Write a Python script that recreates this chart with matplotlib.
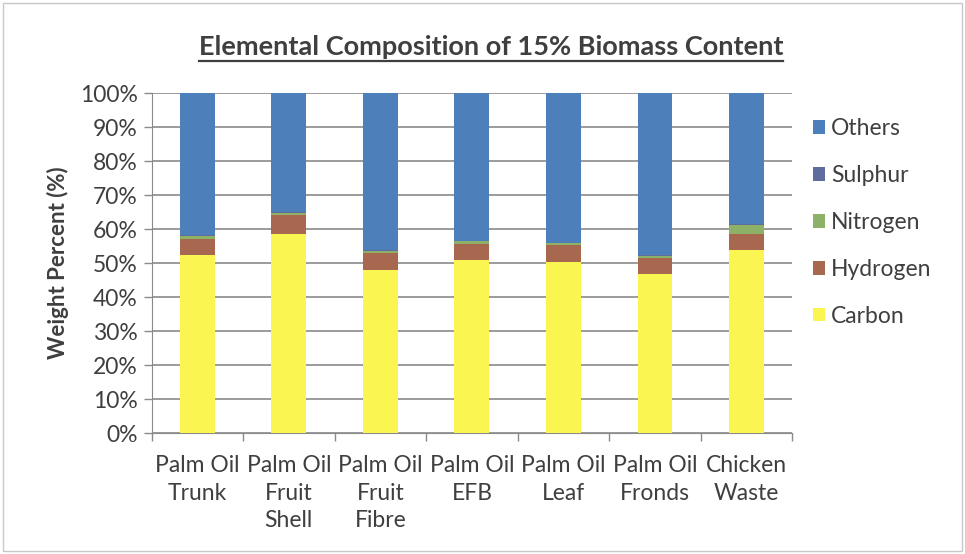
import matplotlib.pyplot as plt
import numpy as np
from matplotlib.ticker import PercentFormatter

plt.rcParams['font.family'] = ['Lato', 'DejaVu Sans']

categories = ["Palm Oil\nTrunk", "Palm Oil\nFruit\nShell", "Palm Oil\nFruit\nFibre",
              "Palm Oil\nEFB", "Palm Oil\nLeaf", "Palm Oil\nFronds", "Chicken\nWaste"]

# weight percent of each element, stacked bottom to top
carbon = [52.4, 58.7, 47.9, 50.9, 50.4, 46.7, 54.0]
hydrogen = [4.6, 5.4, 5.2, 4.7, 4.9, 4.7, 4.7]
nitrogen = [1.0, 0.6, 0.6, 0.8, 0.5, 0.7, 2.5]
sulphur = [0.2, 0.2, 0.2, 0.2, 0.2, 0.2, 0.3]
others = [100 - c - h - n - s for c, h, n, s in zip(carbon, hydrogen, nitrogen, sulphur)]

series = [("Carbon", carbon, "#FAF550"),
          ("Hydrogen", hydrogen, "#A8684F"),
          ("Nitrogen", nitrogen, "#8DB267"),
          ("Sulphur", sulphur, "#5F6D9E"),
          ("Others", others, "#4D80BA")]

text_col = "#3F3F3F"
fs = 16.5

fig = plt.figure(figsize=(9.65, 5.54), dpi=100)
fig.patch.set_facecolor("white")
ax = fig.add_axes([0.157, 0.218, 0.664, 0.614])

x = np.arange(len(categories))
bottom = np.zeros(len(categories))
handles = []
for name, vals, col in series:
    b = ax.bar(x, vals, bottom=bottom, width=0.38, color=col, label=name, zorder=3)
    handles.append(b)
    bottom += np.array(vals)

ax.set_xlim(-0.5, len(categories) - 0.5)
ax.set_ylim(0, 100)
ax.set_yticks(np.arange(0, 101, 10))
ax.yaxis.set_major_formatter(PercentFormatter(decimals=0))
ax.grid(axis="y", color="#8A8A8A", linewidth=1.2, zorder=0)

ax.set_xticks(x)
ax.set_xticklabels(categories, va="top", linespacing=1.38)
ax.set_xticks(np.arange(-0.5, len(categories), 1), minor=True)
ax.tick_params(axis="x", which="major", length=0, pad=16, labelsize=fs, labelcolor=text_col)
ax.tick_params(axis="x", which="minor", length=6, color="#8A8A8A", width=1)
ax.tick_params(axis="y", length=6, color="#8A8A8A", width=1, labelsize=fs, labelcolor=text_col, pad=4)

for side in ["top", "right"]:
    ax.spines[side].set_visible(False)
ax.spines["left"].set_color("#8A8A8A")
ax.spines["bottom"].set_color("#8A8A8A")

ax.set_ylabel("Weight Percent (%)", fontsize=16, fontweight="bold", color=text_col, labelpad=8)

title = fig.text(0.509, 0.9, "Elemental Composition of 15% Biomass Content", ha="center",
                 va="baseline", fontsize=19.5, fontweight="bold", color=text_col)
# underline under the title, sized to the drawn text
fig.canvas.draw()
tb = title.get_window_extent().transformed(fig.transFigure.inverted())
fig.add_artist(plt.Line2D([tb.x0, tb.x1], [0.889, 0.889], color=text_col, linewidth=1.6,
                          transform=fig.transFigure))

leg = ax.legend(handles[::-1], [s[0] for s in series][::-1], loc="center left",
                bbox_to_anchor=(1.0, 0.62), frameon=False, fontsize=fs,
                handlelength=0.55, handleheight=0.55, handletextpad=0.25, labelspacing=1.13)
for t in leg.get_texts():
    t.set_color(text_col)

fig.add_artist(plt.Rectangle((0.003, 0.005), 0.994, 0.99, fill=False, edgecolor="#C8C8C8",
                             linewidth=1, transform=fig.transFigure))

fig.savefig("out.png", dpi=100)
